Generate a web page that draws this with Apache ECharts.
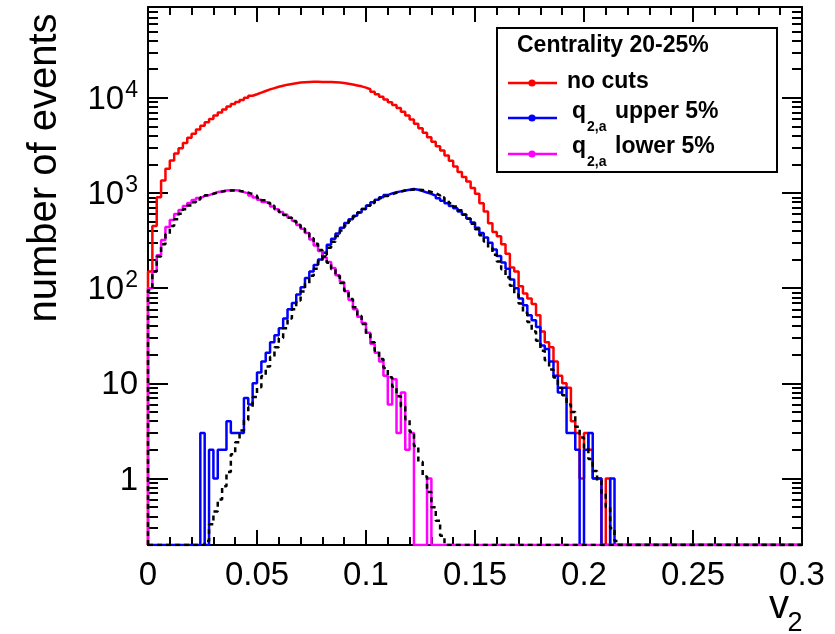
<!DOCTYPE html>
<html><head><meta charset="utf-8">
<script src="https://cdn.jsdelivr.net/npm/echarts@6/dist/echarts.min.js"></script>
<style>html,body{margin:0;padding:0;background:#fff}#c{width:835px;height:634px}</style>
</head><body><div id="c"></div>
<script>
// ---- histogram definition (150 bins, 0 .. 0.3) ----
const binWidth = 0.002;
const xMin = 0, xMax = 0.3;
const xTickInterval = 0.05;
const yMin = 0.2, yMax = 90000;
const yMajorTicks = [1, 10, 100, 1000, 10000];
const yMinorTicks = [0.3,0.4,0.5,0.6,0.7,0.8,0.9, 2,3,4,5,6,7,8,9, 20,30,40,50,60,70,80,90,
  200,300,400,500,600,700,800,900, 2000,3000,4000,5000,6000,7000,8000,9000,
  20000,30000,40000,50000,60000,70000,80000];

// ---- series values (counts per bin) ----
const noCuts = [
 150,450,900,1350,1800,2200,2600,2950,3350,3800,
 4200,4650,5100,5550,6000,6500,7000,7550,8100,8600,
 9050,9500,10000,10500,10900,11350,11800,12250,12650,13050,
 13400,13750,14000,14250,14450,14600,14700,14750,14750,14700,
 14700,14650,14550,14450,14300,14050,13800,13500,13200,12800,
 12300,11550,10900,10250,9600,9000,8400,7800,7150,6500,
 5900,5350,4800,4300,3850,3450,3100,2800,2480,2180,
 1900,1660,1470,1320,1130,980,780,640,480,390,
 350,290,230,165,150,105,88,78,68,52,
 35,27,24,17,12,10,9,4,3,1,
 3,2,1,1,0,1,0,0,0,0,
 0,0,0,0,0,0,0,0,0,0, 0,0,0,0,0,0,0,0,0,0,
 0,0,0,0,0,0,0,0,0,0, 0,0,0,0,0,0,0,0,0,0];
const upper5 = [
 0,0,0,0,0,0,0,0,0,0,
 0,0,3,0,2,1,2,2,4,3,
 3,3,7,6,10,13,17,21,27,32,
 38,48,60,70,86,102,128,150,175,200,
 235,285,330,375,430,485,530,575,625,680,
 740,800,850,900,950,990,1020,1040,1060,1080,
 1100,1080,1050,1010,980,935,880,830,780,730,
 690,640,590,540,490,430,380,340,300,255,
 218,186,160,123,100,78,66,52,46,39,
 25,23,17,12,8,9,3,3,2,0,
 2,3,1,1,0,0,1,0,0,0,
 0,0,0,0,0,0,0,0,0,0, 0,0,0,0,0,0,0,0,0,0,
 0,0,0,0,0,0,0,0,0,0, 0,0,0,0,0,0,0,0,0,0];
const lower5 = [
 100,150,222,320,438,519,600,661,728,783,
 842,884,927,950,986,1022,1035,1060,1070,1070,
 1060,1020,990,940,895,850,805,770,720,675,
 630,590,550,510,460,420,380,325,280,245,
 210,188,163,137,116,93,75,60,50,43,
 34,26,21,17,12,6,11,3,8,2,
 3,0,0,0,1,0,0,0,0,0,
 0,0,0,0,0,0,0,0,0,0, 0,0,0,0,0,0,0,0,0,0,
 0,0,0,0,0,0,0,0,0,0, 0,0,0,0,0,0,0,0,0,0,
 0,0,0,0,0,0,0,0,0,0, 0,0,0,0,0,0,0,0,0,0,
 0,0,0,0,0,0,0,0,0,0];
const fitUpper = [
 0,0,0,0,0,0,0,0,0,0,
 0,0,0,0.22,0.33,0.45,0.6,0.83,1.17,1.8,
 2.4,3.2,4.1,5.6,7.2,9.1,11.9,15,19,24,
 30,38,48,60,74,92,112,135,160,190,
 225,265,308,354,403,456,510,566,622,678,
 733,787,838,885,930,970,1005,1035,1060,1075,
 1085,1085,1075,1055,1025,990,945,895,840,780,
 720,660,595,535,475,415,360,310,265,225,
 190,158,130,106,86,69,55,44,35,28,
 22,17.5,14,11.5,9,7.5,6,5,3.5,2.7,
 2.1,1.6,1.2,0.95,0.7,0.5,0.3,0.22,0,0,
 0,0,0,0,0,0,0,0,0,0, 0,0,0,0,0,0,0,0,0,0,
 0,0,0,0,0,0,0,0,0,0, 0,0,0,0,0,0,0,0,0,0];
const fitLower = [
 95,150,215,290,370,450,530,605,675,740,
 800,855,900,945,980,1010,1035,1050,1060,1060,
 1050,1035,1010,975,935,890,840,790,735,680,
 630,588,548,505,462,420,378,335,292,252,
 215,185,158,134,113,94,77,63,51,42,
 33,27,22,18,14.5,11.6,9.2,7.3,5.7,4.2,
 3.1,2.2,1.5,1.05,0.72,0.5,0.36,0.25,0.18,0,
 0,0,0,0,0,0,0,0,0,0, 0,0,0,0,0,0,0,0,0,0,
 0,0,0,0,0,0,0,0,0,0, 0,0,0,0,0,0,0,0,0,0,
 0,0,0,0,0,0,0,0,0,0, 0,0,0,0,0,0,0,0,0,0,
 0,0,0,0,0,0,0,0,0,0];

const legendTitle = 'Centrality 20-25%';
const seriesNames = ['no cuts', 'q2,a upper 5%', 'q2,a lower 5%', 'fit upper', 'fit lower'];

// ---- build step data: [binLowEdge, count], values below axis min drawn on the frame ----
function histData(vals) {
  const pts = [[xMin, yMin]];
  for (let k = 0; k < vals.length; k++) {
    const edge = +(xMin + k * binWidth).toFixed(4);
    pts.push([edge, Math.max(vals[k], yMin)]);
  }
  pts.push([xMax, Math.max(vals[vals.length - 1], yMin)]);
  return pts;
}

const FONT = "'Liberation Sans', Arial, Helvetica, sans-serif";
function fontAvailable(name) {
  const ctx = document.createElement('canvas').getContext('2d');
  const sample = '0.05 10 abcdefgh';
  ctx.font = '40px monospace';
  const w1 = ctx.measureText(sample).width;
  ctx.font = "40px '" + name + "', monospace";
  const w2 = ctx.measureText(sample).width;
  return Math.abs(w1 - w2) > 0.5;
}
const narrowOK = fontAvailable('Liberation Sans Narrow');
const TICKFONT = narrowOK ? "'Liberation Sans Narrow', " + FONT : FONT;
const TICKSIZE = narrowOK ? 38 : 33;
const SUPSIZE = narrowOK ? 26 : 23;

const chart = echarts.init(document.getElementById('c'), null, {renderer: 'canvas'});

const black = '#000';
const yBase = {type: 'log', logBase: 10, min: yMin, max: yMax, splitLine: {show: false}};
function yAxisDef(pos, major) {
  return Object.assign({}, yBase, {
    position: pos,
    axisLine: {show: major, lineStyle: {color: black, width: 2}},
    axisTick: {show: true, inside: true, length: major ? 20 : 10,
      customValues: major ? yMajorTicks : yMinorTicks,
      lineStyle: {color: black, width: 2}},
    axisLabel: (pos === 'left' && major) ? {
      show: true, customValues: yMajorTicks, margin: 10,
      formatter: function (v) {
        const e = Math.round(Math.log10(v));
        if (e === 0) return '{b|1}';
        if (e === 1) return '{b|10}';
        return '{b|10}{s|' + e + '}';
      },
      rich: {
        b: {fontSize: TICKSIZE, fontFamily: TICKFONT, color: black, lineHeight: TICKSIZE + 4, verticalAlign: 'bottom'},
        s: {fontSize: SUPSIZE, fontFamily: TICKFONT, color: black, lineHeight: TICKSIZE + 4, verticalAlign: 'top', padding: [0, 0, 16, 1]}
      }
    } : {show: false}
  });
}
function xAxisDef(pos) {
  return {
    type: 'value', position: pos, min: xMin, max: xMax, interval: xTickInterval,
    splitLine: {show: false},
    axisLine: {show: true, onZero: false, lineStyle: {color: black, width: 2}},
    axisTick: {show: true, inside: true, length: 15, lineStyle: {color: black, width: 2}},
    minorTick: {show: true, splitNumber: 5, length: 8, lineStyle: {color: black, width: 2}},
    axisLabel: pos === 'bottom' ? {show: true, fontSize: TICKSIZE, fontFamily: TICKFONT, color: black, margin: 14,
      formatter: function (v) { return String(+v.toFixed(3)); }} : {show: false}
  };
}

function histSeries(name, vals, color, dashed) {
  return {
    name: name, type: 'line', step: 'end', data: histData(vals),
    xAxisIndex: 0, yAxisIndex: 0,
    showSymbol: false, symbol: 'none', clip: true, silent: true,
    lineStyle: {color: color, width: 2.5, type: dashed ? [5, 4] : 'solid'},
    z: 3
  };
}

const legendRows = [
  {y: 83, color: '#ff0000'},
  {y: 118, color: '#0000ff'},
  {y: 154, color: '#ff00ff'}
];
const graphics = [
  {type: 'text', x: 45, y: 168, rotation: Math.PI / 2,
    style: {text: 'number of events', fontSize: 40, fontFamily: FONT, fill: black, align: 'center', verticalAlign: 'middle'}},
  {type: 'text', x: 779, y: 607, style: {text: 'v', fontSize: 40, fontFamily: FONT, fill: black, align: 'center', verticalAlign: 'middle'}},
  {type: 'text', x: 795, y: 624, style: {text: '2', fontSize: 27, fontFamily: FONT, fill: black, align: 'center', verticalAlign: 'middle'}},
  {type: 'rect', shape: {x: 497, y: 28, width: 280, height: 144}, style: {fill: '#fff', stroke: black, lineWidth: 2}, z: 10},
  {type: 'text', x: 517, y: 46, z: 11, style: {text: legendTitle, fontSize: 23, fontWeight: 'bold', fontFamily: FONT, fill: black, align: 'left', verticalAlign: 'middle'}},
  {type: 'text', x: 567, y: 82, z: 11, style: {text: 'no cuts', fontSize: 23, fontWeight: 'bold', fontFamily: FONT, fill: black, align: 'left', verticalAlign: 'middle'}},
  {type: 'text', x: 572, y: 112, z: 11, style: {text: 'q', fontSize: 23, fontWeight: 'bold', fontFamily: FONT, fill: black, align: 'left', verticalAlign: 'middle'}},
  {type: 'text', x: 587, y: 127, z: 11, style: {text: '2,a', fontSize: 14, fontWeight: 'bold', fontFamily: FONT, fill: black, align: 'left', verticalAlign: 'middle'}},
  {type: 'text', x: 615, y: 112, z: 11, style: {text: 'upper 5%', fontSize: 23, fontWeight: 'bold', fontFamily: FONT, fill: black, align: 'left', verticalAlign: 'middle'}},
  {type: 'text', x: 572, y: 147, z: 11, style: {text: 'q', fontSize: 23, fontWeight: 'bold', fontFamily: FONT, fill: black, align: 'left', verticalAlign: 'middle'}},
  {type: 'text', x: 587, y: 162, z: 11, style: {text: '2,a', fontSize: 14, fontWeight: 'bold', fontFamily: FONT, fill: black, align: 'left', verticalAlign: 'middle'}},
  {type: 'text', x: 615, y: 147, z: 11, style: {text: 'lower 5%', fontSize: 23, fontWeight: 'bold', fontFamily: FONT, fill: black, align: 'left', verticalAlign: 'middle'}}
];
legendRows.forEach(function (r) {
  graphics.push({type: 'line', z: 11, shape: {x1: 508, y1: r.y, x2: 557, y2: r.y}, style: {stroke: r.color, lineWidth: 2.5}});
  graphics.push({type: 'circle', z: 12, shape: {cx: 532, cy: r.y, r: 3.6}, style: {fill: r.color}});
});

chart.setOption({
  animation: false,
  backgroundColor: '#fff',
  grid: {left: 148, top: 7, width: 654, height: 538, containLabel: false},
  xAxis: [xAxisDef('bottom'), xAxisDef('top')],
  yAxis: [yAxisDef('left', true), yAxisDef('left', false), yAxisDef('right', true), yAxisDef('right', false)],
  series: [
    histSeries(seriesNames[0], noCuts, '#ff0000', false),
    histSeries(seriesNames[1], upper5, '#0000ff', false),
    histSeries(seriesNames[2], lower5, '#ff00ff', false),
    histSeries(seriesNames[3], fitUpper, '#000000', true),
    histSeries(seriesNames[4], fitLower, '#000000', true)
  ],
  graphic: graphics
});
</script>
</body></html>
